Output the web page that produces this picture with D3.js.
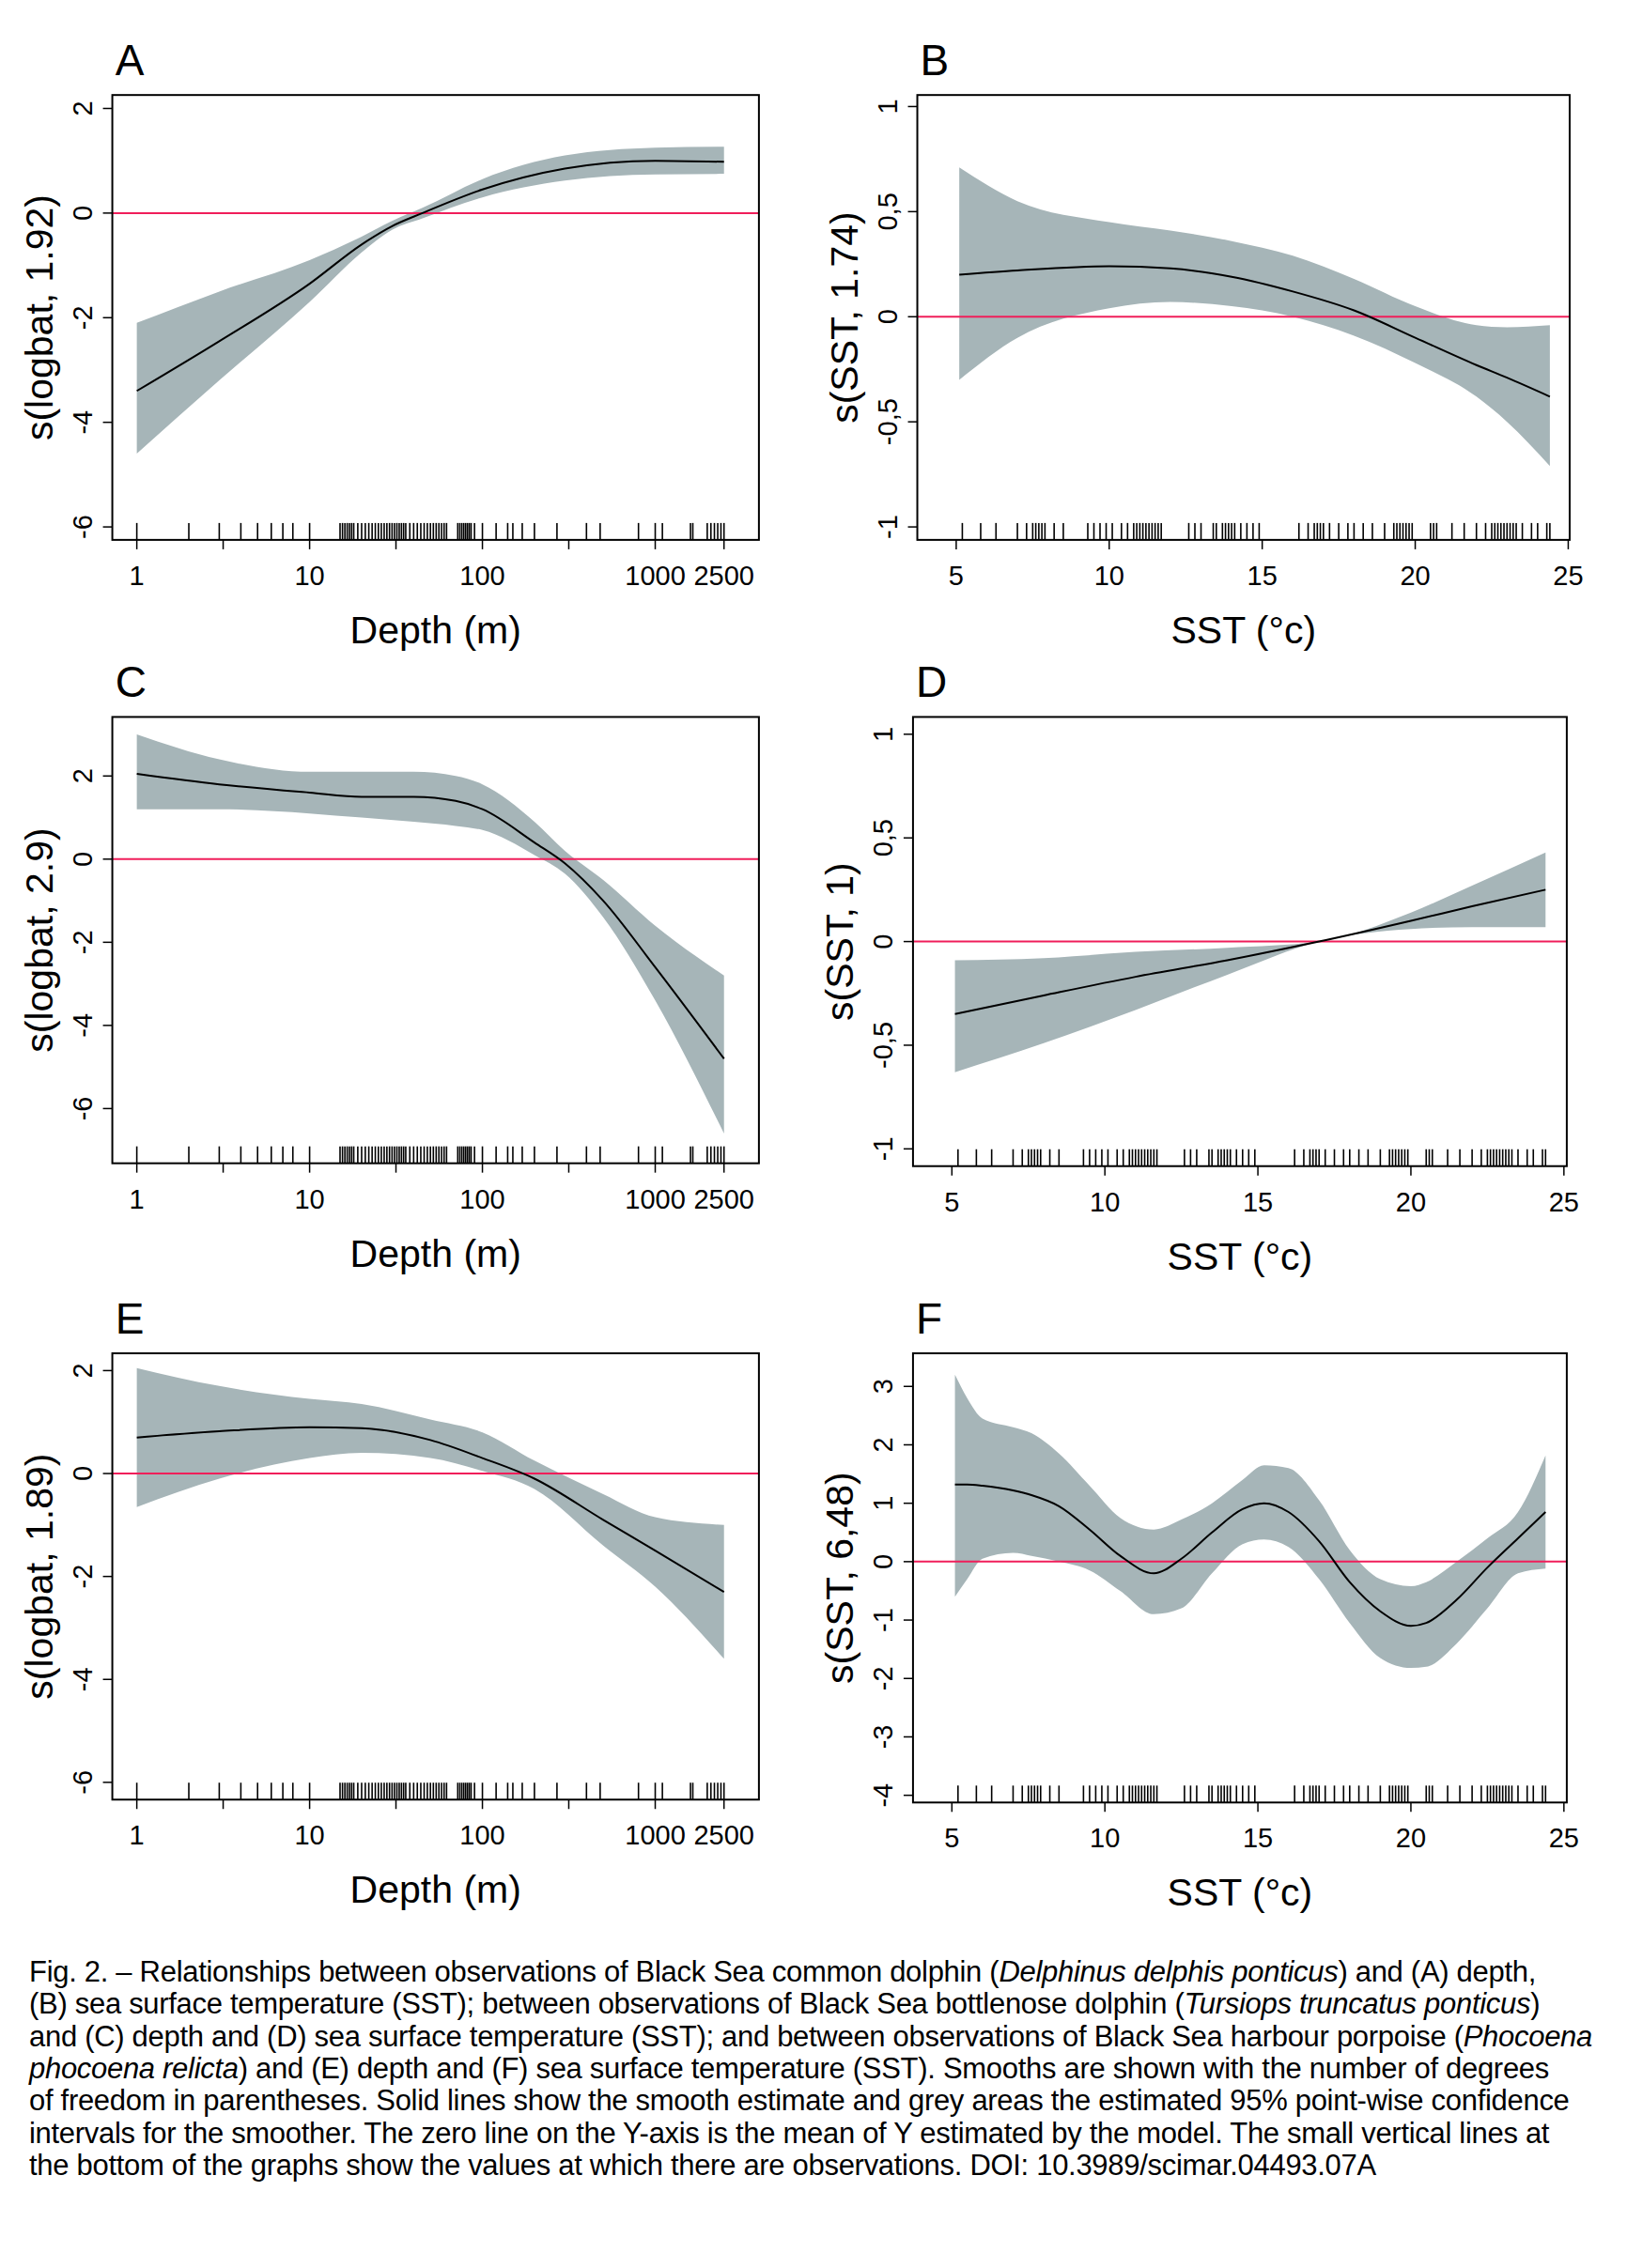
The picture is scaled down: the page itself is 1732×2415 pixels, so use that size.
<!DOCTYPE html>
<html><head><meta charset="utf-8">
<script src="https://cdn.jsdelivr.net/npm/d3@7"></script>
<style>body{margin:0;background:#fff}text{font-family:"Liberation Sans",Arial,sans-serif}</style>
</head><body><svg id="fig" width="1732" height="2415"></svg>
<script>
// smooth estimates [x, fit, lower, upper]
var smoothA = [[1,-3.4,-4.6,-2.1],[3,-2.45,-3.2,-1.5],[10,-1.35,-1.7,-0.9],[20,-0.6,-0.75,-0.45],[30,-0.25,-0.32,-0.15],[45,0,-0.1,0.1],[100,0.45,0.3,0.65],[300,0.85,0.62,1.1],[1000,1.0,0.74,1.25],[2500,0.98,0.75,1.27]];
var smoothB = [[5.1,0.2,-0.3,0.71],[7,0.22,-0.1,0.55],[10,0.24,0.04,0.45],[12,0.23,0.07,0.41],[14,0.19,0.05,0.36],[16,0.12,0.0,0.29],[18,0.03,-0.09,0.18],[20,-0.1,-0.22,0.05],[22,-0.23,-0.38,-0.04],[23,-0.29,-0.5,-0.05],[24.4,-0.38,-0.71,-0.04]];
var smoothC = [[1,2.05,1.2,3.0],[3,1.8,1.2,2.4],[10,1.6,1.1,2.1],[20,1.5,1.0,2.1],[40,1.5,0.9,2.1],[70,1.4,0.8,2.0],[100,1.2,0.7,1.8],[200,0.4,0.1,0.9],[300,-0.1,-0.35,0.2],[500,-1.0,-1.4,-0.5],[1000,-2.6,-3.4,-1.6],[2500,-4.8,-6.6,-2.8]];
var smoothD = [[5.1,-0.35,-0.63,-0.09],[8,-0.26,-0.49,-0.08],[11,-0.17,-0.33,-0.05],[14,-0.09,-0.16,-0.03],[17,0.0,0.0,0.0],[20,0.1,0.06,0.14],[22,0.17,0.07,0.27],[24.4,0.25,0.07,0.43]];
var smoothE = [[1,0.7,-0.65,2.05],[3,0.82,-0.1,1.7],[10,0.9,0.3,1.45],[20,0.88,0.4,1.35],[50,0.65,0.3,1.05],[100,0.3,0.05,0.8],[200,-0.1,-0.3,0.25],[500,-0.9,-1.4,-0.4],[1000,-1.5,-2.2,-0.85],[2500,-2.3,-3.6,-1.0]];
var smoothF = [[5.1,1.32,-0.6,3.2],[5.5,1.32,-0.3,2.8],[6,1.3,0.05,2.45],[7,1.22,0.15,2.3],[7.6,1.14,0.1,2.2],[8.5,0.95,0.0,1.85],[9.5,0.55,-0.15,1.3],[10.5,0.1,-0.5,0.75],[11.6,-0.2,-0.9,0.55],[12.5,0.05,-0.8,0.72],[13.5,0.5,-0.2,1.0],[14.5,0.9,0.3,1.4],[15.2,1.0,0.38,1.65],[16,0.85,0.25,1.6],[17,0.35,-0.3,1.05],[18,-0.35,-1.05,0.2],[19,-0.85,-1.65,-0.3],[20,-1.1,-1.82,-0.42],[20.5,-1.05,-1.8,-0.35],[21.5,-0.65,-1.4,0.0],[22.5,-0.1,-0.8,0.4],[23.5,0.4,-0.2,0.85],[24.4,0.85,-0.12,1.82]];

// observation rugs
var depthRug = [1,2,3,4,5,6,7,8,10,15,15.5,16,16.5,17,17.5,18,19,20,21,22,23,24,25,26,27,28,29,30,31,32,33,34,35,36,38,40,42,44,46,48,50,52,54,56,58,60,62,72,74,76,78,80,82,84,86,90,100,120,140,150,170,200,270,400,480,800,1000,1100,1600,1650,2000,2100,2200,2300,2400,2500];
var sstRug = [5.2,5.8,6.3,7.0,7.3,7.5,7.6,7.7,7.8,7.9,8.2,8.5,9.3,9.5,9.7,9.9,10.1,10.4,10.6,10.8,10.9,11.0,11.1,11.2,11.3,11.4,11.5,11.6,11.7,12.6,12.8,13.0,13.4,13.5,13.7,13.8,13.9,14.0,14.1,14.3,14.5,14.7,14.9,16.2,16.5,16.7,16.8,16.9,17.0,17.2,17.5,17.8,18.0,18.3,18.6,19.0,19.3,19.4,19.5,19.6,19.7,19.8,19.9,20.5,20.6,20.7,21.2,21.6,22.0,22.3,22.5,22.6,22.7,22.8,22.9,23.0,23.1,23.2,23.3,23.5,23.8,24.0,24.3,24.4];

var logTicks = [1,10,100,1000,2500];
var logMinor = [3.16,31.6,316];
var sstTicks = [5,10,15,20,25];

var S = 1.533;
var svg = d3.select("#fig");

var panels = [
  {lab:"A", data:smoothA, log:true, l:78, r:527, t:66, b:375, xr:[95,455], yd:[0,-6], yr:[148,366], yt:[2,0,-2,-4,-6], ytitle:"s(logbat, 1.92)", xtitle:"Depth (m)"},
  {lab:"B", data:smoothB, log:false, l:637, r:1090, t:66, b:375, xr:[664,1089], yd:[0,-1], yr:[220,366], yt:[1,0.5,0,-0.5,-1], ytitle:"s(SST, 1.74)", xtitle:"SST (°c)"},
  {lab:"C", data:smoothC, log:true, l:78, r:527, t:498, b:808, xr:[95,455], yd:[2,-6], yr:[539,770], yt:[2,0,-2,-4,-6], ytitle:"s(logbat, 2.9)", xtitle:"Depth (m)"},
  {lab:"D", data:smoothD, log:false, l:634, r:1088, t:498, b:810, xr:[661,1086], yd:[1,-1], yr:[510,798], yt:[1,0.5,0,-0.5,-1], ytitle:"s(SST, 1)", xtitle:"SST (°c)"},
  {lab:"E", data:smoothE, log:true, l:78, r:527, t:940, b:1250, xr:[95,455], yd:[2,-6], yr:[952,1238], yt:[2,0,-2,-4,-6], ytitle:"s(logbat, 1.89)", xtitle:"Depth (m)"},
  {lab:"F", data:smoothF, log:false, l:634, r:1088, t:940, b:1252, xr:[661,1086], yd:[3,-4], yr:[963,1247], yt:[3,2,1,0,-1,-2,-3,-4], ytitle:"s(SST, 6,48)", xtitle:"SST (°c)"}
];

function fmtY(v){ return String(v).replace(".", ","); }

panels.forEach(function(p){
  var x = p.log ? d3.scaleLog().domain([1,1000]) : d3.scaleLinear().domain([5,25]);
  x.range([p.xr[0]*S, p.xr[1]*S]);
  var y = d3.scaleLinear().domain(p.yd).range([p.yr[0]*S, p.yr[1]*S]);
  var L = p.l*S, R = p.r*S, T = p.t*S, B = p.b*S;
  var g = svg.append("g");

  g.append("text").attr("x", (p.l+2)*S).attr("y", (p.t-14)*S).attr("font-size", 46).text(p.lab);

  g.append("path").datum(p.data).attr("fill", "#a6b5b8")
    .attr("d", d3.area().curve(d3.curveMonotoneX).x(function(d){return x(d[0]);}).y0(function(d){return y(d[2]);}).y1(function(d){return y(d[3]);}));
  g.append("line").attr("x1", L).attr("x2", R).attr("y1", y(0)).attr("y2", y(0)).attr("stroke", "#f01e5a").attr("stroke-width", 2);
  g.append("path").datum(p.data).attr("fill", "none").attr("stroke", "#000").attr("stroke-width", 2)
    .attr("d", d3.line().curve(d3.curveMonotoneX).x(function(d){return x(d[0]);}).y(function(d){return y(d[1]);}));

  var rug = p.log ? depthRug : sstRug;
  g.selectAll(".rug").data(rug).enter().append("line")
    .attr("x1", function(d){return x(d);}).attr("x2", function(d){return x(d);})
    .attr("y1", B-18).attr("y2", B).attr("stroke", "#000").attr("stroke-width", 1.6);

  g.append("rect").attr("x", L).attr("y", T).attr("width", R-L).attr("height", B-T)
    .attr("fill", "none").attr("stroke", "#000").attr("stroke-width", 2);

  // x axis
  var xt = p.log ? logTicks : sstTicks;
  var marks = p.log ? xt.concat(logMinor) : xt;
  g.selectAll(".xt").data(marks).enter().append("line")
    .attr("x1", function(d){return x(d);}).attr("x2", function(d){return x(d);})
    .attr("y1", B).attr("y2", B+10).attr("stroke", "#000").attr("stroke-width", 1.5);
  g.selectAll(".xl").data(xt).enter().append("text")
    .attr("x", function(d){return x(d);}).attr("y", B+48).attr("text-anchor", "middle").attr("font-size", 29).text(function(d){return d;});
  g.append("text").attr("x", (L+R)/2).attr("y", B+110).attr("text-anchor", "middle").attr("font-size", 41).text(p.xtitle);

  // y axis
  g.selectAll(".yt").data(p.yt).enter().append("line")
    .attr("x1", L-10).attr("x2", L).attr("y1", function(d){return y(d);}).attr("y2", function(d){return y(d);})
    .attr("stroke", "#000").attr("stroke-width", 1.5);
  g.selectAll(".yl").data(p.yt).enter().append("text")
    .attr("transform", function(d){return "translate(" + (L-22) + "," + y(d) + ") rotate(-90)";})
    .attr("text-anchor", "middle").attr("font-size", 29).text(fmtY);
  g.append("text").attr("transform", "translate(" + (L-64) + "," + (T+B)/2 + ") rotate(-90)")
    .attr("text-anchor", "middle").attr("font-size", 41).text(p.ytitle);
});

// caption
var caption = [
  [["Fig. 2. – Relationships between observations of Black Sea common dolphin (",0],["Delphinus delphis ponticus",1],[") and (A) depth,",0]],
  [["(B) sea surface temperature (SST); between observations of Black Sea bottlenose dolphin (",0],["Tursiops truncatus ponticus",1],[")",0]],
  [["and (C) depth and (D) sea surface temperature (SST); and between observations of Black Sea harbour porpoise (",0],["Phocoena",1]],
  [["phocoena relicta",1],[") and (E) depth and (F) sea surface temperature (SST). Smooths are shown with the number of degrees",0]],
  [["of freedom in parentheses. Solid lines show the smooth estimate and grey areas the estimated 95% point-wise confidence",0]],
  [["intervals for the smoother. The zero line on the Y-axis is the mean of Y estimated by the model. The small vertical lines at",0]],
  [["the bottom of the graphs show the values at which there are observations. DOI: 10.3989/scimar.04493.07A",0]]
];
var cap = svg.append("g");
caption.forEach(function(line, i){
  var t = cap.append("text").attr("x", 31).attr("y", 2110 + i*34.3).attr("font-size", 31).attr("letter-spacing", -0.3);
  line.forEach(function(s){ t.append("tspan").attr("font-style", s[1] ? "italic" : "normal").text(s[0]); });
});
</script></body></html>
